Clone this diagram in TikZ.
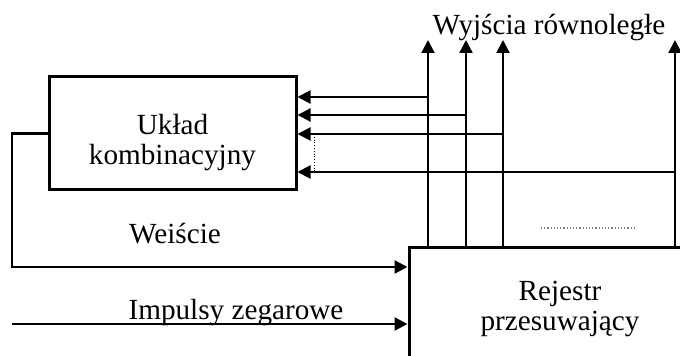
\documentclass[tikz,border=0pt]{standalone}
\usepackage{fontspec}
\setmainfont{Liberation Serif}
\usetikzlibrary{arrows.meta, positioning}

\begin{document}
\begin{tikzpicture}[
  x=0.5pt, y=-0.5pt,
  font=\fontsize{14.6pt}{14.6pt}\selectfont,
  box/.style={rectangle, draw, line width=1.5pt, inner sep=0pt, align=center},
  lbl/.style={align=center, inner sep=0pt},
  arr/.style={-{Triangle[length=6.5pt, width=6.5pt]}, line width=1.1pt}
]
\useasboundingbox (0,0) rectangle (680,356);
\clip (0,0) rectangle (680,356);

\node[box, minimum width=123.5pt, minimum height=56.5pt] (comb) at (172.5,133.5) {};
\node[lbl] (combtxt) at ([yshift=-4.5pt]comb.center) {Układ\\kombinacyjny};
\node[box, minimum width=151pt, minimum height=61pt] (reg) at (560,309) {Rejestr\\przesuwający};

\coordinate (q1) at (428,40);
\coordinate (q2) at (466,40);
\coordinate (q3) at (503,40);
\coordinate (q4) at (675,40);
\foreach \q in {q1,q2,q3,q4}
  \draw[arr] (\q |- reg.north) -- (\q);

\coordinate (f1) at (428,97);
\coordinate (f2) at (466,115);
\coordinate (f3) at (503,134);
\coordinate (f4) at (675,172);
\foreach \f in {f1,f2,f3,f4}
  \draw[arr] (\f) -- (\f -| comb.east);

\draw[densely dotted, line width=0.4pt] (314,134) -- (314,172);
\draw[densely dotted, gray, line width=0.6pt] (541,228) -- (637,228);

\coordinate (we) at (12,267);
\draw[arr] (comb.west) -| (we) -- (we -| reg.west);

\coordinate (clk) at (12,324);
\draw[arr] (clk) -- (clk -| reg.west);

\node[anchor=base] (wyj) at (549,35) {Wyjścia równoległe};
\node[anchor=base] (wej) at (175,244) {Weiście};
\node[anchor=base] (takt) at (236,320) {Impulsy zegarowe};

\end{tikzpicture}
\end{document}
